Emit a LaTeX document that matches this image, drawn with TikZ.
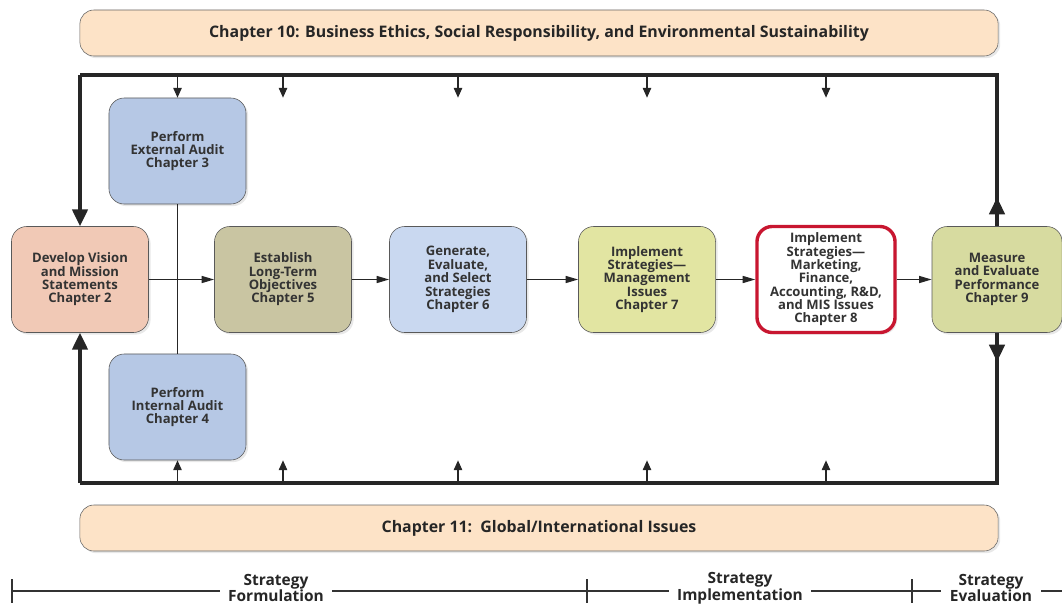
\documentclass[tikz,border=0pt]{standalone}
\usepackage{fontspec}
\setmainfont{Open Sans}
\usepackage{tikz}
\usetikzlibrary{arrows.meta, shadows, positioning}
\definecolor{bannerpeach}{RGB}{253,227,199}
\definecolor{auditblue}{RGB}{182,200,229}
\definecolor{visionpink}{RGB}{241,201,182}
\definecolor{objkhaki}{RGB}{201,197,162}
\definecolor{stratblue}{RGB}{201,216,240}
\definecolor{implgreen}{RGB}{226,229,162}
\definecolor{evalgreen}{RGB}{215,219,160}
\definecolor{focusred}{RGB}{200,22,48}

\begin{document}
\begin{tikzpicture}[
    x=0.025cm, y=-0.025cm,
    chap/.style={rectangle, rounded corners=0.38cm, draw=black!65, thin, minimum width=3.425cm, minimum height=2.65cm, inner xsep=1pt, align=center, text=black!80, font=\bfseries\fontsize{9.3}{9.5}\selectfont, drop shadow={opacity=0.18, shadow xshift=1.5pt, shadow yshift=-1.5pt}},
    banner/.style={rectangle, rounded corners=0.35cm, draw=black!60, fill=bannerpeach, minimum width=22.95cm, minimum height=1.15cm, text=black!85, font=\bfseries\fontsize{11.3}{12}\selectfont, drop shadow={opacity=0.18, shadow xshift=1.5pt, shadow yshift=-1.5pt}},
    loopline/.style={line width=2.2pt, black!85},
    bigtip/.style={-{Triangle[length=12pt, width=11pt]}},
    flow/.style={line width=1pt, black!85, -{Triangle[length=9pt, width=5pt]}},
    feed/.style={line width=0.9pt, black!85, -{Triangle[length=7pt, width=6pt]}},
    phase/.style={fill=white, inner xsep=6pt, inner ysep=0pt, align=center, text=black!85, font=\bfseries\fontsize{11}{10.2}\selectfont}
]
    \useasboundingbox (0,0) rectangle (1062,606);

    % Banners
    \node[banner] (ethics) at (539,33) {Chapter 10: Business Ethics, Social Responsibility, and Environmental Sustainability};
    \node[banner] (global) at (539,528) {Chapter 11:\ \ Global/International Issues};

    % Stages
    \node[chap, fill=auditblue] (ext) at (177.5,151) {Perform\\External Audit\\Chapter 3};
    \node[chap, fill=auditblue] (int) at (177.5,407) {Perform\\Internal Audit\\Chapter 4};
    \node[chap, fill=visionpink] (dev) at (80,279.5) {Develop Vision\\and Mission\\Statements\\Chapter 2};
    \node[chap, fill=objkhaki] (est) at (283,279.5) {Establish\\Long-Term\\Objectives\\Chapter 5};
    \node[chap, fill=stratblue] (gen) at (458,279.5) {Generate,\\Evaluate,\\and Select\\Strategies\\Chapter 6};
    \node[chap, fill=implgreen] (imp7) at (647,279.5) {Implement\\Strategies---\\Management\\Issues\\Chapter 7};
    \node[chap, fill=white, draw=focusred, line width=2.4pt, minimum width=3.45cm] (imp8) at (826,279.5) {Implement\\Strategies---\\Marketing,\\Finance,\\Accounting, R\&D,\\and MIS Issues\\Chapter 8};
    \node[chap, fill=evalgreen, minimum width=3.25cm] (meas) at (997,279.5) {Measure\\and Evaluate\\Performance\\Chapter 9};

    % Flow
    \draw[line width=1.4pt, black!85] (ext.south) -- (int.north);
    \draw[flow] (dev) -- (est);
    \draw[flow] (est) -- (gen);
    \draw[flow] (gen) -- (imp7);
    \draw[flow] (imp7) -- (imp8);
    \draw[flow] (imp8) -- (meas);

    % Feedback loop
    \coordinate (tl) at (80,75);
    \coordinate (bl) at (80,483);
    \coordinate[above=0.72cm of meas.north] (measup);
    \coordinate[below=0.72cm of meas.south] (measdn);
    \draw[loopline] (meas.north) |- (tl);
    \draw[loopline, bigtip] (tl) -- (dev.north);
    \draw[loopline, bigtip] (meas.north) -- (measup);
    \draw[loopline] (meas.south) |- (bl);
    \draw[loopline, bigtip] (bl) -- (dev.south);
    \draw[loopline, bigtip] (meas.south) -- (measdn);

    % Feeds from the loop
    \draw[feed] (ext |- tl) -- (ext.north);
    \draw[feed] (ext |- bl) -- (int.south);
    \foreach \b in {est, gen, imp7, imp8} {
        \draw[feed] (\b |- tl) -- (\b |- ext.north);
        \draw[feed] (\b |- bl) -- (\b |- int.south);
    }

    % Phases
    \coordinate (sl) at (12,591);
    \coordinate (sr) at (1062,591);
    \draw[line width=0.8pt, black!80] (sl) -- (sr);
    \foreach \x in {12, 587, 912} {
        \coordinate (tick) at (\x,591);
        \draw[line width=0.8pt, black!80] (tick) ++(0,-12) -- ++(0,24);
    }
    \node[phase] (form) at (276,588) {Strategy\\Formulation};
    \node[phase] (impl) at (740,588) {Strategy\\Implementation};
    \node[phase] (eval) at (991,588) {Strategy\\Evaluation};
\end{tikzpicture}
\end{document}
